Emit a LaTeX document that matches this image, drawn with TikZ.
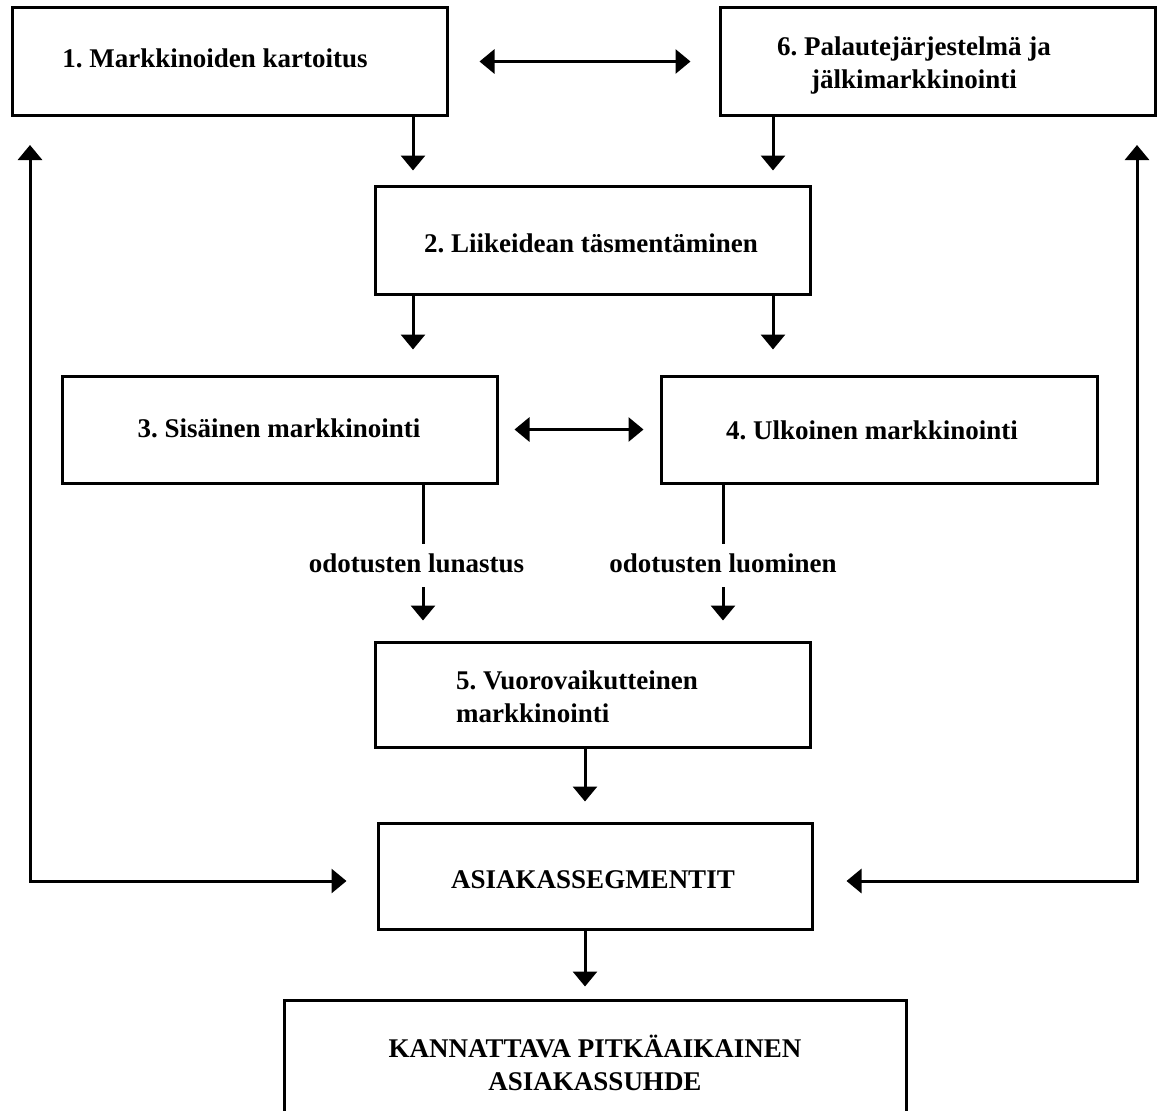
\documentclass[tikz,border=0pt]{standalone}
\usepackage{fontspec}
\setmainfont{Liberation Serif}
\usetikzlibrary{arrows.meta}
\begin{document}
\begin{tikzpicture}[x=1pt,y=-1pt,
  box/.style={draw,line width=3pt,rectangle,minimum width=435pt,minimum height=108pt,inner sep=0pt},
  txt/.style={font=\fontsize{27}{33}\selectfont\bfseries\frenchspacing,inner sep=0pt,align=center},
  conn/.style={line width=3pt},
  arr/.style={conn,-{Triangle[width=24pt,length=15pt]}},
  dbl/.style={conn,{Triangle[width=24pt,length=15pt]}-{Triangle[width=24pt,length=15pt]}}]
\useasboundingbox (0,0) rectangle (1162,1111);
\clip (0,0) rectangle (1162,1111);
% boxes
\node[box] (b1) at (229.5,61.5) {};
\node[box] (b6) at (937.5,61.5) {};
\node[box] (b2) at (592.5,240) {};
\node[box,minimum height=107pt] (b3) at (279.5,429.5) {};
\node[box,minimum width=436pt,minimum height=107pt] (b4) at (879,429.5) {};
\node[box,minimum height=105pt] (b5) at (592.5,694.5) {};
\node[box,minimum width=434pt,minimum height=106pt] (b7) at (595,876) {};
\node[box,minimum width=622pt,minimum height=130pt] (b8) at (595,1065) {};
% texts
\node[txt] (t1) at (215,58) {1. Markkinoiden kartoitus};
\node[txt] (t6) at (914,66) {6. Palautejärjestelmä ja\\jälkimarkkinointi};
\node[txt] (t2) at (591,243) {2. Liikeidean täsmentäminen};
\node[txt] (t3) at (279,428) {3. Sisäinen markkinointi};
\node[txt] (t4) at (872,430) {4. Ulkoinen markkinointi};
\node[txt,align=left] (t5) at (577,697) {5. Vuorovaikutteinen\\markkinointi};
\node[txt] (t7) at (593,880) {ASIAKASSEGMENTIT};
\node[txt] (t8) at (595,1063) {KANNATTAVA PITKÄAIKAINEN\\ASIAKASSUHDE};
\node[txt] (l1) at (416.5,563) {odotusten lunastus};
\node[txt] (l2) at (723,563) {odotusten luominen};
% coordinates
\coordinate (a1) at (413,0);
\coordinate (a2) at (773,0);
\coordinate (a5) at (585,0);
\coordinate (c3a) at (423,544);
\coordinate (c3b) at (423,587);
\coordinate (c4a) at (723,544);
\coordinate (c4b) at (723,587);
\coordinate (cl) at (30,145);
\coordinate (cr) at (1137,145);
% connectors
\draw[arr,shorten >=14pt] (b1.south -| a1) -- (b2.north -| a1);
\draw[arr,shorten >=14pt] (b6.south -| a2) -- (b2.north -| a2);
\draw[arr,shorten >=25pt] (b2.south -| a1) -- (b3.north -| a1);
\draw[arr,shorten >=25pt] (b2.south -| a2) -- (b4.north -| a2);
\draw[dbl,shorten <=31pt,shorten >=28pt] (b1.east) -- (b6.west);
\draw[dbl,shorten <=16pt,shorten >=16pt] (b3.east) -- (b4.west);
\draw[conn] (b3.south -| c3a) -- (c3a);
\draw[arr,shorten >=20pt] (c3b) -- (b5.north -| c3b);
\draw[conn] (b4.south -| c4a) -- (c4a);
\draw[arr,shorten >=20pt] (c4b) -- (b5.north -| c4b);
\draw[arr,shorten >=20pt] (b5.south -| a5) -- (b7.north -| a5);
\draw[arr,shorten >=12pt] (b7.south -| a5) -- (b8.north -| a5);
\draw[dbl,shorten >=30pt] (cl) |- ([yshift=-5pt]b7.west);
\draw[dbl,shorten >=33pt] (cr) |- ([yshift=-5pt]b7.east);
\end{tikzpicture}
\end{document}
